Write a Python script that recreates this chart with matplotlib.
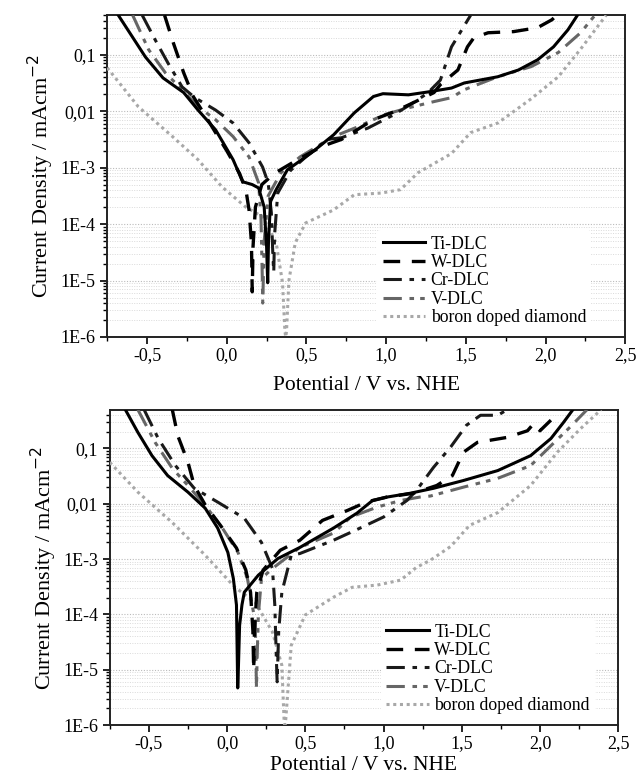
import matplotlib
matplotlib.use("Agg")
import matplotlib.pyplot as plt
import numpy as np
from matplotlib.ticker import FixedLocator, FuncFormatter, LogLocator, MultipleLocator, NullFormatter

plt.rcParams['font.family'] = ['Liberation Serif', 'DejaVu Serif']

labels = ["Ti-DLC", "W-DLC", "Cr-DLC", "V-DLC", "boron doped diamond"]

# ---------- top panel (potential V, log10 current density) ----------
ti1_x = [-0.68, -0.51, -0.40, -0.27, -0.18, -0.07, 0.04, 0.10, 0.16, 0.20, 0.235, 0.250, 0.257, 0.262, 0.275, 0.31, 0.38, 0.53, 0.67, 0.80, 0.92, 0.98, 1.06, 1.14, 1.26, 1.41, 1.49, 1.70, 1.83, 1.95, 2.05, 2.14, 2.20]
ti1_y = [-0.30, -1.04, -1.41, -1.67, -1.98, -2.33, -2.86, -3.25, -3.30, -3.36, -3.70, -4.40, -5.04, -4.30, -3.60, -3.39, -3.04, -2.74, -2.42, -2.03, -1.74, -1.69, -1.70, -1.71, -1.66, -1.59, -1.50, -1.39, -1.27, -1.09, -0.86, -0.56, -0.30]

w1_x = [-0.39, -0.335, -0.27, -0.21, -0.13, -0.07, 0.0, 0.08, 0.12, 0.14, 0.155, 0.16, 0.165, 0.18, 0.22, 0.30, 0.45, 0.60, 0.72, 0.92, 1.05, 1.17, 1.30, 1.34, 1.45, 1.51, 1.55, 1.64, 1.80, 1.95, 2.04, 2.07]
w1_y = [-0.30, -0.79, -1.32, -1.74, -2.10, -2.38, -2.70, -3.10, -3.39, -3.75, -4.33, -5.20, -4.40, -3.70, -3.30, -3.10, -2.85, -2.62, -2.50, -2.15, -2.01, -1.85, -1.67, -1.53, -1.27, -0.86, -0.70, -0.61, -0.59, -0.52, -0.38, -0.30]

cr1_x = [-0.53, -0.45, -0.37, -0.28, -0.20, -0.07, 0.04, 0.14, 0.225, 0.26, 0.28, 0.29, 0.295, 0.30, 0.32, 0.40, 0.50, 0.63, 0.72, 0.885, 1.05, 1.17, 1.26, 1.34, 1.41, 1.53]
cr1_y = [-0.30, -0.73, -1.14, -1.57, -1.76, -1.98, -2.21, -2.56, -2.99, -3.27, -3.80, -4.60, -4.85, -4.20, -3.45, -3.05, -2.80, -2.50, -2.47, -2.30, -2.06, -1.85, -1.68, -1.45, -0.86, -0.30]

v1_x = [-0.59, -0.49, -0.385, -0.28, -0.18, -0.07, 0.04, 0.14, 0.20, 0.215, 0.222, 0.226, 0.235, 0.26, 0.34, 0.46, 0.67, 0.82, 0.99, 1.14, 1.30, 1.41, 1.49, 1.70, 1.91, 2.08, 2.22, 2.31]
v1_y = [-0.30, -0.91, -1.32, -1.62, -1.92, -2.15, -2.45, -2.81, -3.27, -3.90, -4.80, -5.40, -4.30, -3.50, -3.09, -2.81, -2.45, -2.28, -2.06, -1.94, -1.83, -1.76, -1.62, -1.39, -1.21, -0.96, -0.61, -0.30]

b1_x = [-0.75, -0.555, -0.34, -0.18, -0.03, 0.12, 0.225, 0.31, 0.35, 0.365, 0.37, 0.375, 0.39, 0.43, 0.495, 0.67, 0.80, 0.97, 1.09, 1.20, 1.41, 1.53, 1.70, 1.91, 2.08, 2.22, 2.38]
b1_y = [-1.23, -1.92, -2.45, -2.86, -3.34, -3.70, -3.87, -4.33, -5.04, -5.90, -6.00, -5.90, -5.00, -4.33, -3.98, -3.75, -3.48, -3.45, -3.39, -3.09, -2.75, -2.38, -2.21, -1.78, -1.39, -0.90, -0.30]

# ---------- bottom panel ----------
ti2_x = [-0.65, -0.57, -0.48, -0.38, -0.25, -0.14, -0.06, 0.005, 0.04, 0.06, 0.068, 0.072, 0.08, 0.095, 0.11, 0.20, 0.325, 0.465, 0.68, 0.83, 0.93, 1.02, 1.17, 1.32, 1.51, 1.73, 1.94, 2.07, 2.15, 2.21]
ti2_y = [-0.30, -0.71, -1.13, -1.49, -1.79, -2.08, -2.44, -2.88, -3.35, -3.83, -5.33, -5.00, -4.20, -3.83, -3.60, -3.29, -2.99, -2.79, -2.44, -2.17, -1.94, -1.88, -1.81, -1.72, -1.58, -1.40, -1.13, -0.82, -0.53, -0.30]

w2_x = [-0.35, -0.315, -0.25, -0.21, -0.14, -0.04, 0.06, 0.12, 0.15, 0.165, 0.17, 0.175, 0.19, 0.23, 0.34, 0.465, 0.61, 0.77, 0.89, 1.02, 1.19, 1.34, 1.44, 1.51, 1.60, 1.79, 1.92, 1.96, 2.00, 2.08]
w2_y = [-0.30, -0.77, -1.25, -1.67, -2.02, -2.40, -2.80, -3.20, -3.60, -4.30, -5.00, -4.30, -3.60, -3.20, -2.84, -2.66, -2.30, -2.12, -1.97, -1.88, -1.81, -1.67, -1.49, -1.07, -0.89, -0.80, -0.68, -0.55, -0.68, -0.46]

cr2_x = [-0.53, -0.44, -0.33, -0.21, -0.06, 0.11, 0.22, 0.29, 0.305, 0.315, 0.32, 0.33, 0.35, 0.41, 0.465, 0.68, 0.85, 1.00, 1.15, 1.21, 1.32, 1.43, 1.53, 1.62, 1.73, 1.79]
cr2_y = [-0.30, -0.82, -1.31, -1.72, -1.97, -2.26, -2.70, -3.17, -3.83, -4.80, -5.22, -4.30, -3.60, -2.93, -2.90, -2.66, -2.44, -2.24, -1.94, -1.76, -1.34, -0.97, -0.58, -0.40, -0.40, -0.30]

v2_x = [-0.57, -0.46, -0.35, -0.25, -0.14, -0.03, 0.07, 0.13, 0.18, 0.188, 0.192, 0.20, 0.22, 0.29, 0.465, 0.68, 0.79, 0.96, 1.11, 1.23, 1.30, 1.51, 1.73, 1.94, 2.07, 2.19, 2.30]
v2_y = [-0.30, -0.89, -1.36, -1.67, -2.03, -2.44, -2.88, -3.35, -4.14, -5.33, -4.80, -4.00, -3.35, -3.17, -2.79, -2.53, -2.24, -2.06, -1.94, -1.88, -1.86, -1.70, -1.54, -1.31, -0.95, -0.62, -0.30]

b2_x = [-0.75, -0.57, -0.35, -0.14, 0.05, 0.18, 0.29, 0.35, 0.365, 0.37, 0.375, 0.41, 0.50, 0.68, 0.80, 0.96, 1.11, 1.21, 1.30, 1.43, 1.55, 1.73, 1.94, 2.11, 2.26, 2.39]
b2_y = [-1.25, -1.79, -2.34, -2.93, -3.51, -3.78, -4.32, -4.92, -5.95, -6.00, -5.90, -4.56, -4.01, -3.69, -3.51, -3.47, -3.38, -3.15, -3.02, -2.77, -2.39, -2.16, -1.67, -1.07, -0.64, -0.30]

xticks = [-0.5, 0.0, 0.5, 1.0, 1.5, 2.0, 2.5]
yticks = [1e-6, 1e-5, 1e-4, 1e-3, 1e-2, 1e-1]
ytick_labels = ["1E-6", "1E-5", "1E-4", "1E-3", "0,01", "0,1"]

styles = [
    dict(color="black", lw=2.2, ls="-"),
    dict(color="black", lw=2.4, ls=(0, (5, 3.5))),
    dict(color="#1a1a1a", lw=2.2, ls=(0, (6, 2.5, 1.5, 2.5))),
    dict(color="#666666", lw=2.2, ls=(0, (6, 2.5, 1.5, 2, 1.5, 2.5))),
    dict(color="#a8a8a8", lw=2.2, ls=(0, (1, 1.2))),
]

fig = plt.figure(figsize=(6.38, 7.8), dpi=100)
ax1 = fig.add_axes([0.168, 0.568, 0.812, 0.413])
ax2 = fig.add_axes([0.172, 0.0705, 0.797, 0.4035])

panels = [
    (ax1, [(ti1_x, ti1_y), (w1_x, w1_y), (cr1_x, cr1_y), (v1_x, v1_y), (b1_x, b1_y)], 0.51, 0.945, 9),
    (ax2, [(ti2_x, ti2_y), (w2_x, w2_y), (cr2_x, cr2_y), (v2_x, v2_y), (b2_x, b2_y)], 0.49, 0.965, 3),
]

for ax, series, ytop, legx, lpad in panels:
    order = [4, 3, 2, 1, 0]
    lines = {}
    for i in order:
        x, ly = series[i]
        ln, = ax.plot(x, 10 ** np.array(ly), label=labels[i], zorder=3 + (4 - i), **styles[i])
        lines[i] = ln
    ax.set_yscale("log")
    ax.set_xlim(-0.75, 2.5)
    ax.set_ylim(1e-6, ytop)
    ax.xaxis.set_major_locator(FixedLocator(xticks))
    ax.xaxis.set_minor_locator(MultipleLocator(0.25))
    ax.xaxis.set_major_formatter(FuncFormatter(lambda v, p: f"{v:.1f}".replace(".", ",")))
    ax.yaxis.set_major_locator(FixedLocator(yticks))
    ax.yaxis.set_major_formatter(FuncFormatter(lambda v, p: ytick_labels[int(round(np.log10(v))) + 6] if -6 <= round(np.log10(v)) <= -1 else ""))
    ax.yaxis.set_minor_locator(LogLocator(base=10, subs=np.arange(2, 10), numticks=20))
    ax.yaxis.set_minor_formatter(NullFormatter())
    ax.grid(True, which="major", axis="y", color="#bbbbbb", ls=(0, (1, 1.5)), lw=0.8, zorder=0)
    ax.grid(True, which="minor", axis="y", color="#dadada", ls=(0, (1, 1.5)), lw=0.7, zorder=0)
    ax.tick_params(axis="both", which="major", direction="out", length=5, width=1.2, labelsize=13, top=False, right=False)
    ax.tick_params(axis="x", which="major", pad=2)
    ax.tick_params(axis="both", which="minor", direction="out", length=3, width=1.0, top=False, right=False)
    for s in ax.spines.values():
        s.set_linewidth(1.4)
        s.set_color("#222222")
    ax.set_xlabel("Potential / V vs. NHE", fontsize=15.5, labelpad=lpad)
    ax.set_ylabel("Current Density / mAcm$^{-2}$", fontsize=16, labelpad=3)
    handles = [lines[i] for i in range(5)]
    leg = ax.legend(handles, labels, loc="lower right", bbox_to_anchor=(legx, 0.0), fontsize=12.8,
                    frameon=True, framealpha=1, edgecolor="none", facecolor="white",
                    handlelength=2.4, handletextpad=0.3, labelspacing=0.08, borderpad=0.3,
                    borderaxespad=0.3)
    leg.set_zorder(10)

fig.savefig("out.png", dpi=100)
